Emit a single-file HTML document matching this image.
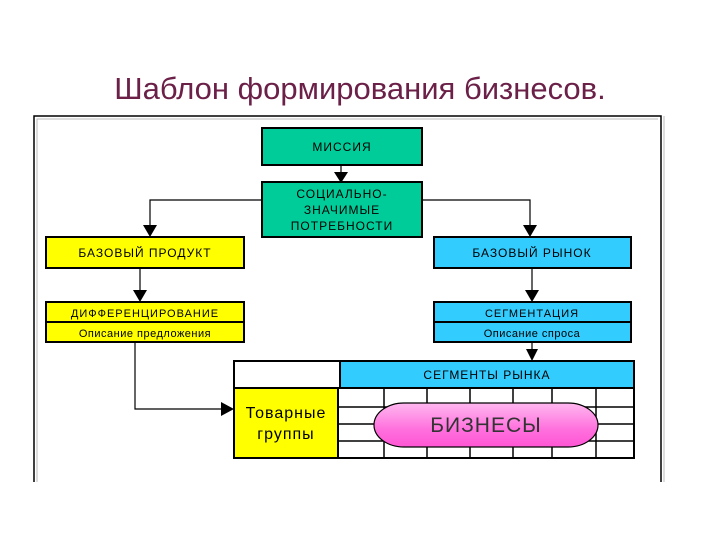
<!DOCTYPE html>
<html><head><meta charset="utf-8"><style>
html,body{margin:0;padding:0;background:#fff;width:720px;height:540px;overflow:hidden}
svg text{font-family:"Liberation Sans",sans-serif}
</style></head><body>
<svg width="720" height="540" viewBox="0 0 720 540" xmlns="http://www.w3.org/2000/svg">
<defs>
<linearGradient id="pk" x1="0" y1="0" x2="0" y2="1">
<stop offset="0" stop-color="#ffb8f0"/><stop offset="0.6" stop-color="#ff70dd"/><stop offset="1" stop-color="#ff55d5"/></linearGradient>
</defs>
<text x="360" y="99" font-size="31" fill="#6b2048" text-anchor="middle">Шаблон формирования бизнесов.</text>
<path d="M34,482 V116 H661 V482" fill="none" stroke="#000" stroke-width="1.5"/>
<path d="M37,482 V119 H658" fill="none" stroke="#bbb" stroke-width="1"/>
<line x1="664" y1="116" x2="664" y2="482" stroke="#bbb"/>
<g stroke="#000" stroke-width="1.2" fill="none">
<line x1="341" y1="165" x2="341" y2="174"/>
<polyline points="262,200 150,200 150,226"/>
<polyline points="422,200 530,200 530,226"/>
<line x1="140" y1="268" x2="140" y2="291"/>
<line x1="532" y1="268" x2="532" y2="291"/>
<line x1="532" y1="342" x2="532" y2="350"/>
<polyline points="135,342 135,409 222,409"/>
</g>
<g fill="#000">
<path d="M334,172 H348 L341,183 Z"/>
<path d="M143,225 H157 L150,237 Z"/>
<path d="M523,225 H537 L530,237 Z"/>
<path d="M133,290 H147 L140,302 Z"/>
<path d="M525,290 H539 L532,302 Z"/>
<path d="M526,349 H538 L532,361 Z"/>
<path d="M221,402 V416 L234,409 Z"/>
</g>
<g stroke="#000" stroke-width="2">
<rect x="262" y="128" width="160" height="37" fill="#00cc99"/>
<rect x="262" y="182" width="160" height="55" fill="#00cc99"/>
<rect x="46" y="237" width="198" height="31" fill="#ffff00"/>
<rect x="434" y="237" width="197" height="31" fill="#33ccff"/>
<rect x="46" y="302" width="198" height="40" fill="#ffff00"/>
<line x1="46" y1="322" x2="244" y2="322"/>
<rect x="434" y="302" width="197" height="40" fill="#33ccff"/>
<line x1="434" y1="322" x2="631" y2="322"/>
<rect x="234" y="361" width="400" height="97" fill="#fff"/>
<rect x="340" y="361" width="294" height="27" fill="#33ccff"/>
<rect x="234" y="388" width="104" height="70" fill="#ffff00"/>
<line x1="234" y1="388" x2="634" y2="388"/>
</g>
<g stroke="#000" stroke-width="1.5">
<line x1="384" y1="388" x2="384" y2="458"/><line x1="427" y1="388" x2="427" y2="458"/>
<line x1="470" y1="388" x2="470" y2="458"/><line x1="513" y1="388" x2="513" y2="458"/>
<line x1="552" y1="388" x2="552" y2="458"/><line x1="596" y1="388" x2="596" y2="458"/>
<line x1="338" y1="407" x2="634" y2="407"/><line x1="338" y1="424" x2="634" y2="424"/>
<line x1="338" y1="441" x2="634" y2="441"/>
</g>
<rect x="374" y="403" width="224" height="44" rx="30" ry="22" fill="url(#pk)" stroke="#000" stroke-width="1.2"/>
<g font-size="12" text-anchor="middle" fill="#000" letter-spacing="1">
<text x="342" y="151">МИССИЯ</text>
<text x="342" y="198">СОЦИАЛЬНО-</text>
<text x="342" y="214">ЗНАЧИМЫЕ</text>
<text x="342" y="230">ПОТРЕБНОСТИ</text>
<text x="145" y="257">БАЗОВЫЙ ПРОДУКТ</text>
<text x="532" y="257">БАЗОВЫЙ РЫНОК</text>
<text x="145" y="317" font-size="11">ДИФФЕРЕНЦИРОВАНИЕ</text>
<text x="532" y="317" font-size="11">СЕГМЕНТАЦИЯ</text>
<text x="487" y="379" font-size="12">СЕГМЕНТЫ  РЫНКА</text>
</g>
<g font-size="11" text-anchor="middle" fill="#000" letter-spacing="0.5">
<text x="145" y="337">Описание предложения</text>
<text x="532" y="337">Описание спроса</text>
</g>
<text x="286" y="418" font-size="16" text-anchor="middle" letter-spacing="1">Товарные</text>
<text x="286" y="439" font-size="16" text-anchor="middle" letter-spacing="1">группы</text>
<text x="486" y="432" font-size="21" text-anchor="middle" fill="#333" letter-spacing="1">БИЗНЕСЫ</text>
</svg>
</body></html>
